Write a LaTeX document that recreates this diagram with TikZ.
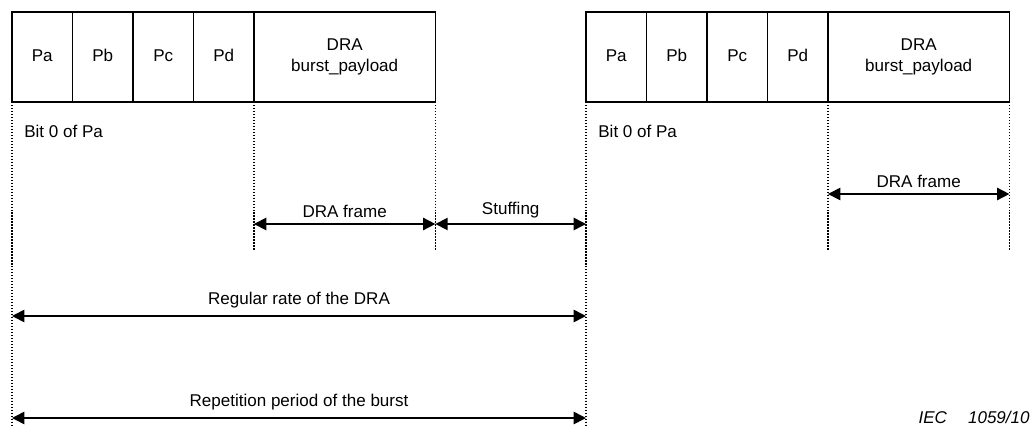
\documentclass[tikz,border=0pt]{standalone}
\usepackage{fontspec}
\setmainfont{Liberation Sans}
\usetikzlibrary{arrows.meta,positioning}

\begin{document}
\begin{tikzpicture}[x=0.02cm, y=-0.02cm,
    font=\fontsize{9.7}{11.7}\selectfont,
    cell/.style={draw, line width=0.9pt, minimum height=1.8cm,
                 inner sep=0pt, outer sep=0pt, align=center},
    pcell/.style={cell, minimum width=1.21cm, text height=0.72em, text depth=0.2em},
    guide/.style={densely dotted, line width=0.7pt},
    span/.style={{Triangle[length=7pt,width=7pt]}-{Triangle[length=7pt,width=7pt]},
                 line width=0.9pt},
    tag/.style={inner sep=0pt}]

  \useasboundingbox (0,0) rectangle (1035,430);

  % ============================================================
  % TWO BURSTS — Pa..Pd header cells, then the DRA payload
  %   \g = prefix of node names, \x = left edge (px)
  % ============================================================
  \foreach \g/\x in {l/12, r/586}{
    \node[pcell, anchor=north west] (\g pa) at (\x,12) {Pa};
    \node[pcell, right=0pt of \g pa] (\g pb) {Pb};
    \node[pcell, right=0pt of \g pb] (\g pc) {Pc};
    \node[pcell, right=0pt of \g pc] (\g pd) {Pd};
    \node[cell, minimum width=3.63cm, right=0pt of \g pd] (\g dra) {DRA\\burst\_payload};

    \node[tag, anchor=west] (\g bit)
      at ([xshift=0.24cm, yshift=-0.58cm]\g pa.south west) {Bit 0 of Pa};
  }

  % ============================================================
  % Guide lines under the cells (dotted)
  % ============================================================
  \coordinate (lstart) at (lpa.south west |- 0,425);
  \coordinate (rstart) at (rpa.south west |- 0,425);
  \coordinate (lfa)    at (ldra.south west |- 0,250);
  \coordinate (lfb)    at (ldra.south east |- 0,250);
  \coordinate (rfa)    at (rdra.south west |- 0,250);
  \coordinate (rfb)    at (rdra.south east |- 0,250);

  \draw[guide] (lpa.south west)  -- (lstart);
  \draw[guide] (rpa.south west)  -- (rstart);
  \draw[guide] (ldra.south west) -- (lfa);
  \draw[guide] (ldra.south east) -- (lfb);
  \draw[guide] (rdra.south west) -- (rfa);
  \draw[guide] (rdra.south east) -- (rfb);

  % ============================================================
  % Dimension arrows
  % ============================================================
  \draw[span] (lfa |- 0,224) -- node[above=3pt, tag] (lframe) {DRA frame} (lfb |- 0,224);
  \draw[span] (lfb |- 0,224) -- node[above=3pt, tag] (stuff) {Stuffing} (rstart |- 0,224);
  \draw[span] (rfa |- 0,194) -- node[above=3pt, tag] (rframe) {DRA frame} (rfb |- 0,194);

  \draw[span] (lstart |- 0,316) -- node[above=4pt, tag] (rate) {Regular rate of the DRA} (rstart |- 0,316);
  \draw[span] (lstart |- 0,418) -- node[above=4pt, tag] (period) {Repetition period of the burst} (rstart |- 0,418);

  \node[tag, anchor=east, font=\fontsize{9.7}{11.7}\selectfont\itshape] (iec)
    at (1030,417) {IEC\hspace{12pt}1059/10};

\end{tikzpicture}
\end{document}
